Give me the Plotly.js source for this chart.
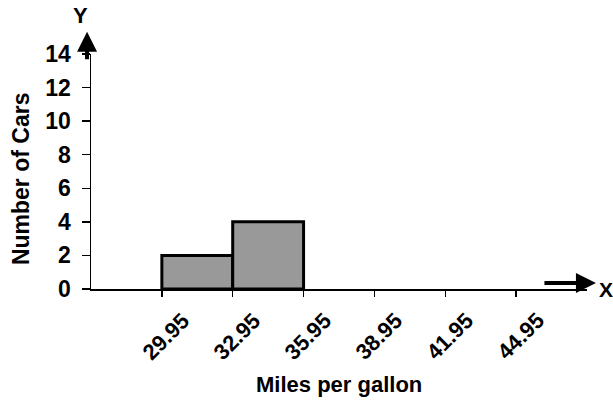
<!DOCTYPE html>
<html><head><meta charset="utf-8">
<script src="https://cdn.plot.ly/plotly-3.0.1.min.js"></script>
<style>body{margin:0;background:#fff}#c{width:613px;height:402px}</style>
</head><body><div id="c"></div>
<script>
var binEdges = [29.95, 32.95, 35.95, 38.95, 41.95, 44.95];
var binLabels = ['29.95', '32.95', '35.95', '38.95', '41.95', '44.95'];
var barStarts = [29.95, 32.95];
var counts = [2, 4];
var yTicks = [0, 2, 4, 6, 8, 10, 12, 14];
var F = 'Arial, Liberation Sans, sans-serif';

var trace = {
  type: 'bar',
  x: barStarts,
  y: counts,
  width: 3,
  offset: 0,
  marker: {color: '#999999', line: {color: '#000', width: 3}},
  hoverinfo: 'none'
};

var ann = [
  {xref: 'paper', yref: 'paper', x: -0.008, y: 1.095, ax: 0, ay: 29,
   showarrow: true, arrowhead: 2, arrowwidth: 4, arrowsize: 1, arrowcolor: '#000', text: ''},
  {xref: 'paper', yref: 'paper', x: 1.018, y: 0.026, ax: -53, ay: 0,
   showarrow: true, arrowhead: 2, arrowwidth: 4, arrowsize: 1, arrowcolor: '#000', text: ''},
  {xref: 'paper', yref: 'paper', x: -0.022, y: 1.162, xanchor: 'center', yanchor: 'middle',
   showarrow: false, text: 'Y', font: {family: F, size: 22, weight: 'bold'}},
  {xref: 'paper', yref: 'paper', x: 1.02, y: 0.0, xanchor: 'left', yanchor: 'middle',
   showarrow: false, text: 'X', font: {family: F, size: 21, weight: 'bold'}},
  {xref: 'paper', yref: 'paper', x: 0.5, y: -0.408, xanchor: 'center', yanchor: 'middle',
   showarrow: false, text: 'Miles per gallon', font: {family: F, size: 22, weight: 'bold'}},
  {xref: 'paper', yref: 'paper', x: -0.141, y: 0.468, xanchor: 'center', yanchor: 'middle',
   textangle: -90, showarrow: false, text: 'Number of Cars', font: {family: F, size: 23, weight: 'bold'}}
];
binEdges.forEach(function (v, i) {
  ann.push({xref: 'x', yref: 'paper', x: v, y: -0.2, xshift: 4, xanchor: 'center', yanchor: 'middle',
    textangle: -45, showarrow: false, text: binLabels[i], font: {family: F, size: 22, weight: 'bold'}});
});

var layout = {
  width: 613, height: 402,
  margin: {l: 91, r: 26, t: 54, b: 113},
  paper_bgcolor: '#fff', plot_bgcolor: '#fff',
  showlegend: false,
  font: {family: F, color: '#000'},
  xaxis: {
    range: [26.95, 47.95],
    tickvals: binEdges, ticktext: binLabels, showticklabels: false,
    ticks: 'outside', ticklen: 6, tickwidth: 1.5, tickcolor: '#000',
    showline: true, linecolor: '#000', linewidth: 1.5,
    showgrid: false, zeroline: false
  },
  yaxis: {
    range: [0, 14],
    tickvals: yTicks,
    ticks: 'outside', ticklen: 8, tickwidth: 1.5, tickcolor: '#000',
    ticklabelstandoff: 6,
    showline: true, linecolor: '#000', linewidth: 1.5,
    showgrid: false, zeroline: false,
    tickfont: {family: F, size: 23, weight: 'bold'}
  },
  annotations: ann
};

Plotly.newPlot('c', [trace], layout, {staticPlot: true});
</script></body></html>
